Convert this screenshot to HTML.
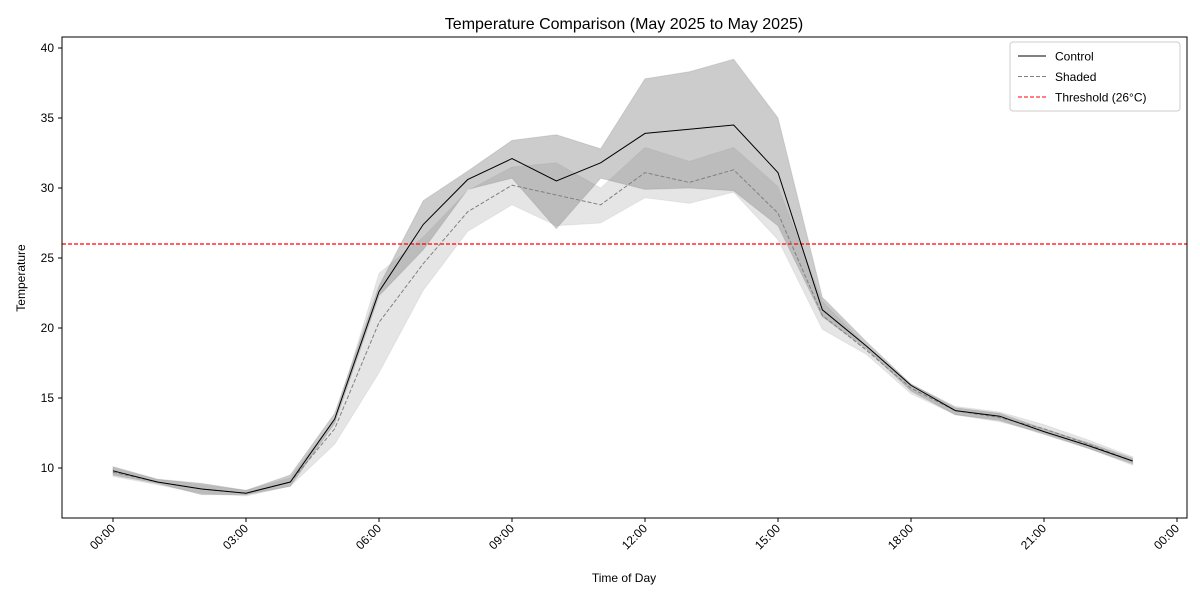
<!DOCTYPE html>
<html><head><meta charset="utf-8"><style>
body{margin:0;background:#fff;font-family:"Liberation Sans",sans-serif}
</style></head><body>
<svg id="c" width="1200" height="600" xmlns="http://www.w3.org/2000/svg" font-family="Liberation Sans, sans-serif"></svg>
<script>
const hours=[0,1,2,3,4,5,6,7,8,9,10,11,12,13,14,15,16,17,18,19,20,21,22,23];
const controlMean=[9.8,9.0,8.5,8.2,9.0,13.5,22.6,27.4,30.6,32.1,30.5,31.8,33.9,34.2,34.5,31.1,21.3,18.7,15.9,14.1,13.7,12.6,11.6,10.5];
const controlLow=[9.5,8.9,8.1,8.1,8.7,13.2,22.3,25.6,29.9,30.7,27.1,30.7,29.9,30.0,29.8,27.3,20.8,18.5,15.5,13.8,13.4,12.4,11.4,10.3];
const controlHigh=[10.1,9.2,8.9,8.4,9.5,13.9,23.0,29.1,31.2,33.4,33.8,32.8,37.8,38.3,39.2,35.0,22.2,19.0,16.0,14.3,13.9,12.8,11.8,10.7];
const shadedMean=[9.7,9.0,8.5,8.2,9.0,12.8,20.4,24.6,28.3,30.2,29.5,28.8,31.1,30.4,31.3,28.2,20.9,18.4,15.7,14.1,13.6,12.8,11.7,10.5];
const shadedLow=[9.4,8.8,8.2,8.0,8.7,11.7,16.8,22.7,26.9,28.8,27.3,27.5,29.3,28.9,29.7,26.3,19.9,18.1,15.3,13.8,13.3,12.5,11.4,10.2];
const shadedHigh=[10.0,9.2,8.8,8.4,9.3,13.5,23.9,26.5,29.8,31.5,31.8,30.0,32.9,31.9,32.9,30.1,21.9,18.7,16.0,14.4,14.0,13.1,12.0,10.8];
const threshold=26;
const yTicks=[10,15,20,25,30,35,40];
const xTickHours=[0,3,6,9,12,15,18,21,24];
const xTickLabels=["00:00","03:00","06:00","09:00","12:00","15:00","18:00","21:00","00:00"];

const L=62,R=1187,T=37,B=518;
const X=h=>113+h*44.333;
const Y=v=>468-(v-10)*14;
const svg=document.getElementById('c');
const NS="http://www.w3.org/2000/svg";
function el(t,a,p){const e=document.createElementNS(NS,t);for(const k in a)e.setAttribute(k,a[k]);(p||svg).appendChild(e);return e;}
function band(lo,hi,fill,op,name){
  let d="M"+hours.map((h,i)=>X(h)+","+Y(hi[i])).join("L");
  d+="L"+hours.slice().reverse().map(h=>X(h)+","+Y(lo[hours.indexOf(h)])).join("L")+"Z";
  const p=el('path',{d:d,fill:fill,'fill-opacity':op,stroke:fill,'stroke-opacity':op*0.6});
  
  
}
function line(vals,stroke,dash,name){
  const p=el('polyline',{points:hours.map((h,i)=>X(h)+","+Y(vals[i])).join(" "),fill:'none',stroke:stroke,'stroke-width':1,'stroke-dasharray':dash});
  
  
}
band(shadedLow,shadedHigh,'#999',0.25,'shaded-range-band');
band(controlLow,controlHigh,'#808080',0.4,'control-range-band');
const th=el('line',{x1:L,x2:R,y1:Y(threshold),y2:Y(threshold),stroke:'red','stroke-width':1.2,'stroke-dasharray':'4,2'});


line(shadedMean,'#808080','4,2','shaded-line');
line(controlMean,'#000','','control-line');
const frame=el('rect',{x:L,y:T,width:R-L,height:B-T,fill:'none',stroke:'#000','stroke-width':1});


yTicks.forEach(v=>{
  el('line',{x1:L-4,x2:L,y1:Y(v),y2:Y(v),stroke:'#000'});
  const t=el('text',{x:L-8,y:Y(v)+4,'text-anchor':'end','font-size':12});t.textContent=v;
  
  
});
xTickHours.forEach((h,i)=>{
  el('line',{x1:X(h),x2:X(h),y1:B,y2:B+4,stroke:'#000'});
  const t=el('text',{x:X(h)+3,y:B+11,'text-anchor':'end','font-size':12,transform:`rotate(-45 ${X(h)+3} ${B+11})`});t.textContent=xTickLabels[i];
  
  
});
let t=el('text',{x:624,y:29,'text-anchor':'middle','font-size':16});t.textContent="Temperature Comparison (May 2025 to May 2025)";

t=el('text',{x:624,y:582,'text-anchor':'middle','font-size':12});t.textContent="Time of Day";

t=el('text',{x:25,y:278,'text-anchor':'middle','font-size':12,transform:'rotate(-90 25 278)'});t.textContent="Temperature";

const lg=el('g',{});

el('rect',{x:1010,y:42,width:170,height:69,rx:3,fill:'#fff',stroke:'#ccc'},lg);
[["Control","#000",""],["Shaded","#808080","4,2"],["Threshold (26°C)","red","4,2"]].forEach((e,i)=>{
  const y=56+i*20.5;
  el('line',{x1:1018,x2:1046,y1:y,y2:y,stroke:e[1],'stroke-dasharray':e[2]},lg);
  const tt=el('text',{x:1055,y:y+4.5,'font-size':12},lg);tt.textContent=e[0];
  
});
</script>
</body></html>
